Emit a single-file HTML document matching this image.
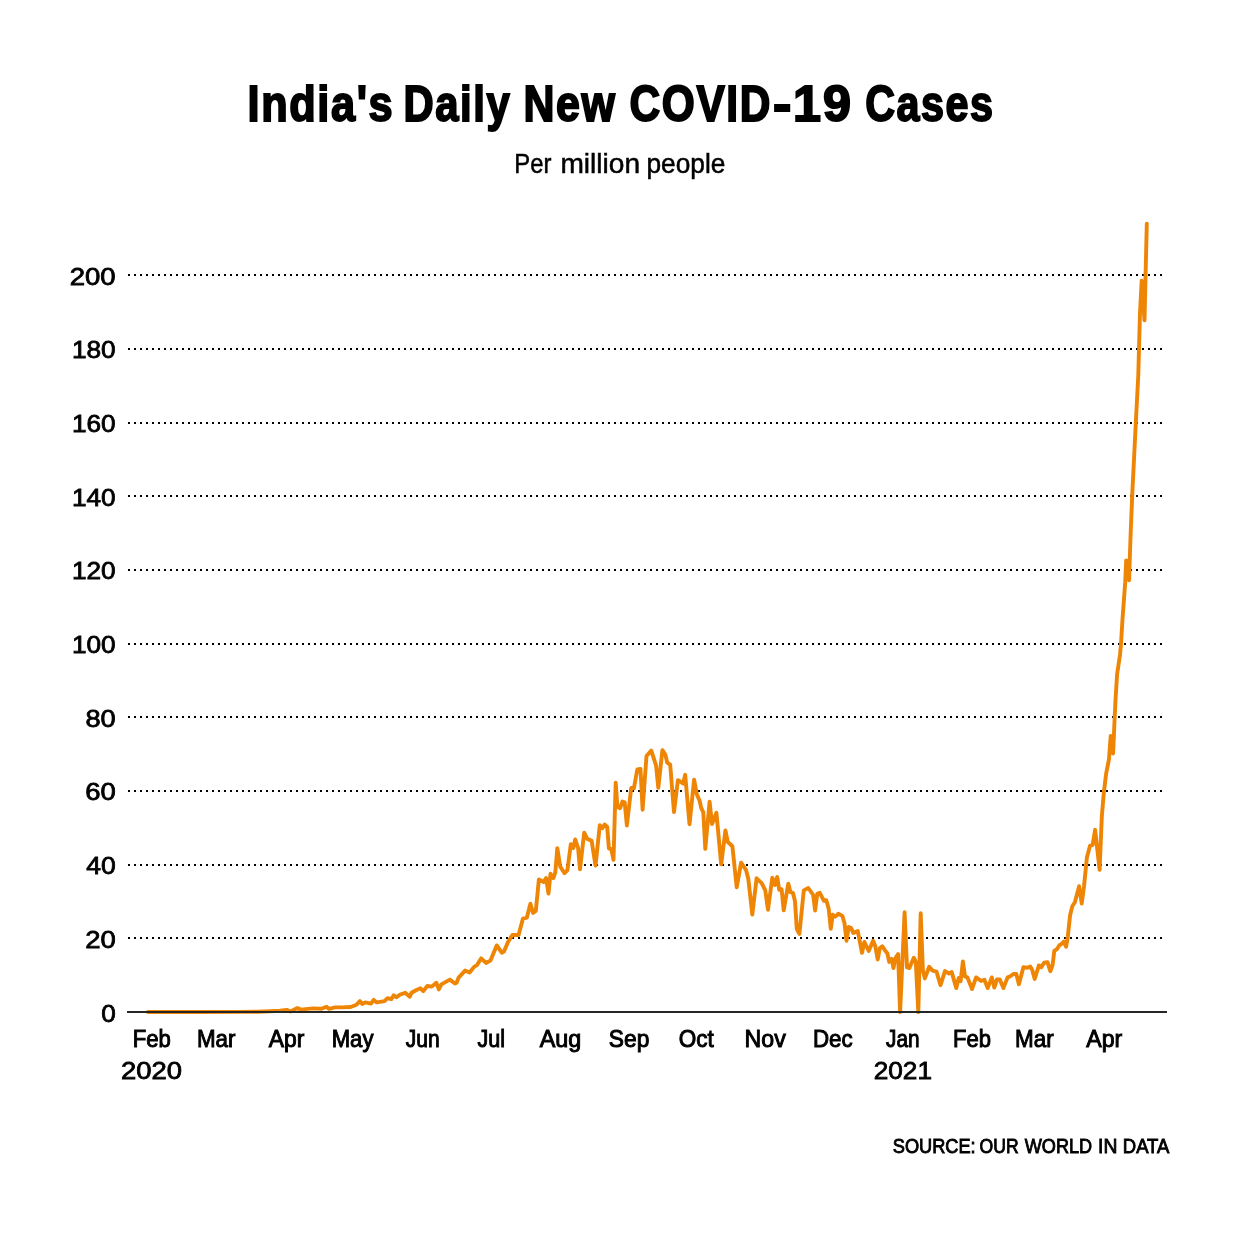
<!DOCTYPE html>
<html lang="en"><head><meta charset="utf-8"><title>India's Daily New COVID-19 Cases</title>
<style>
html,body{margin:0;padding:0;background:#fff;}
body{width:1240px;height:1240px;overflow:hidden;font-family:"Liberation Sans",sans-serif;}
svg{display:block;}

text{font-family:"Liberation Sans",sans-serif;fill:#000;stroke:#000;}
.title{font-size:49.2px;font-weight:700;stroke-width:1.9px;stroke-linejoin:miter;letter-spacing:1.8px;}
.sub{font-size:27px;stroke-width:0.5px;}
.ax{font-size:24.6px;stroke-width:1px;}
.num{font-size:24.1px;stroke-width:0.8px;}
.src{font-size:20.4px;stroke-width:0.9px;}

</style></head><body>
<svg width="1240" height="1240" viewBox="0 0 1240 1240">
<rect width="1240" height="1240" fill="#fff"/>
<g id="grid">
<line x1="128" y1="275" x2="1162" y2="275" stroke="#000" stroke-width="2" stroke-dasharray="2 4"/>
<line x1="128" y1="349" x2="1162" y2="349" stroke="#000" stroke-width="2" stroke-dasharray="2 4"/>
<line x1="128" y1="423" x2="1162" y2="423" stroke="#000" stroke-width="2" stroke-dasharray="2 4"/>
<line x1="128" y1="496" x2="1162" y2="496" stroke="#000" stroke-width="2" stroke-dasharray="2 4"/>
<line x1="128" y1="570" x2="1162" y2="570" stroke="#000" stroke-width="2" stroke-dasharray="2 4"/>
<line x1="128" y1="644" x2="1162" y2="644" stroke="#000" stroke-width="2" stroke-dasharray="2 4"/>
<line x1="128" y1="717" x2="1162" y2="717" stroke="#000" stroke-width="2" stroke-dasharray="2 4"/>
<line x1="128" y1="791" x2="1162" y2="791" stroke="#000" stroke-width="2" stroke-dasharray="2 4"/>
<line x1="128" y1="865" x2="1162" y2="865" stroke="#000" stroke-width="2" stroke-dasharray="2 4"/>
<line x1="128" y1="938" x2="1162" y2="938" stroke="#000" stroke-width="2" stroke-dasharray="2 4"/>
</g>
<polyline fill="none" stroke="#ee8505" stroke-width="3.9" stroke-linejoin="round" stroke-linecap="round" points="147.9,1012.0 200.0,1012.0 240.0,1011.9 258.0,1011.7 270.0,1011.2 280.0,1010.8 286.8,1009.9 290.6,1011.5 297.4,1008.1 300.8,1009.6 312.9,1008.4 321.6,1008.7 326.5,1006.7 328.9,1008.9 335.2,1007.4 342.0,1007.4 350.7,1007.0 356.5,1004.7 359.9,1001.1 362.3,1004.0 365.2,1002.4 371.0,1003.6 373.7,999.9 376.8,1002.4 384.5,1001.1 387.5,998.2 391.3,999.2 393.7,995.3 396.2,997.3 400.2,994.5 405.2,992.8 409.8,996.8 411.5,992.8 416.5,990.0 420.5,988.3 423.3,991.1 427.3,986.0 431.8,986.6 436.3,982.7 438.8,989.4 441.4,984.4 449.8,979.6 454.9,983.5 456.6,982.7 458.6,977.6 465.1,970.6 469.6,972.5 474.1,966.9 476.9,965.2 481.2,958.4 486.0,962.9 490.5,960.6 496.7,945.4 501.8,952.7 504.0,951.6 508.0,942.0 512.4,935.0 518.6,935.0 522.9,918.7 526.8,917.7 530.4,903.7 533.1,912.9 535.8,911.0 538.9,879.5 543.7,881.9 546.1,878.1 548.5,893.5 550.5,873.7 553.4,878.1 555.3,872.3 557.3,848.1 560.2,866.5 564.5,873.2 567.4,870.3 570.8,844.2 573.2,848.1 575.2,839.4 578.1,848.1 580.0,869.4 584.2,832.6 587.3,838.9 591.6,840.8 595.5,865.5 599.8,825.3 602.3,828.2 604.6,824.5 607.2,827.0 608.9,848.3 611.3,849.2 613.5,859.8 615.7,782.6 617.4,806.8 620.1,808.2 622.5,801.5 624.7,802.4 626.9,825.6 631.2,787.9 633.9,788.4 637.3,769.5 640.5,769.0 642.6,809.7 646.5,756.0 651.3,750.6 656.1,765.6 658.3,787.9 662.4,750.2 665.3,754.5 667.3,762.7 670.2,764.7 674.0,812.1 677.9,780.2 683.2,783.5 685.2,774.8 689.5,824.2 694.1,779.7 696.8,794.2 699.7,801.0 701.1,807.7 703.3,812.3 705.3,848.8 709.6,801.8 712.0,824.0 716.4,812.8 721.2,864.4 725.4,830.5 727.8,842.0 732.4,846.2 736.7,887.4 741.1,862.6 746.0,869.8 748.4,879.5 752.3,914.6 756.6,878.3 761.7,883.1 765.3,890.4 768.0,909.8 772.3,877.7 775.0,885.0 777.2,877.1 779.2,889.8 781.6,889.2 783.7,910.4 788.3,883.7 790.5,892.2 792.9,892.8 795.0,901.3 796.8,929.1 799.4,933.9 803.8,890.4 808.3,888.0 813.2,895.0 815.1,910.5 817.3,893.8 819.8,892.8 823.9,900.8 826.3,900.2 828.7,908.7 830.8,928.7 832.7,914.8 835.2,916.6 838.4,913.8 842.4,916.0 844.5,923.2 846.5,940.8 848.7,926.9 851.1,928.1 853.3,932.9 857.8,931.1 862.0,952.9 864.4,942.0 868.7,951.0 873.1,940.8 875.3,946.2 877.7,959.5 879.9,948.0 882.3,946.2 885.0,950.4 887.4,953.5 889.2,961.9 891.6,958.9 893.5,968.0 895.3,958.3 898.1,954.1 900.1,1012.1 904.6,912.3 907.0,967.4 909.4,968.0 913.8,957.7 915.8,961.9 918.3,1012.1 920.7,913.3 922.9,970.5 924.9,978.4 929.2,966.8 932.6,970.6 936.5,971.6 940.5,985.2 945.0,971.1 949.0,973.5 951.7,972.1 956.3,988.1 958.7,977.9 960.6,981.3 962.9,961.5 965.0,976.5 967.4,977.4 972.0,989.0 976.1,977.4 981.0,980.8 984.4,979.8 987.7,988.1 991.8,977.4 994.3,987.6 996.9,979.4 999.8,979.4 1003.4,988.1 1007.6,977.4 1010.0,976.5 1013.4,974.0 1016.3,974.0 1018.9,984.2 1023.4,967.3 1027.4,967.7 1030.2,966.6 1032.3,970.1 1034.7,979.0 1038.9,965.4 1041.3,967.3 1044.1,962.7 1047.5,962.2 1050.3,971.2 1052.6,965.0 1054.3,950.9 1056.9,949.2 1059.4,945.2 1061.4,944.1 1063.9,941.5 1066.1,946.7 1067.8,936.8 1070.1,915.3 1072.3,906.3 1074.9,902.3 1079.1,886.2 1081.7,903.5 1084.0,886.5 1086.9,857.4 1090.1,845.6 1092.6,845.0 1095.1,829.8 1099.6,869.8 1101.8,816.8 1103.9,791.9 1106.1,773.9 1109.0,759.2 1110.7,736.0 1113.1,753.5 1114.7,716.8 1115.6,698.4 1117.1,674.2 1120.0,655.0 1121.0,643.8 1122.5,619.1 1125.2,582.4 1126.2,560.4 1129.1,580.3 1129.9,555.2 1130.6,535.0 1132.2,495.7 1135.8,422.8 1138.3,375.0 1139.0,348.9 1140.0,312.8 1141.7,280.6 1144.5,320.4 1146.8,223.7"/>
<line x1="127" y1="1012" x2="1167" y2="1012" stroke="#262626" stroke-width="2"/>
<g id="labels">
<text class="title" y="121.4"><tspan x="247.59" textLength="146.67" lengthAdjust="spacingAndGlyphs">India&#39;s</tspan> <tspan x="403.54" textLength="107.66" lengthAdjust="spacingAndGlyphs">Daily</tspan> <tspan x="523.41" textLength="93.05" lengthAdjust="spacingAndGlyphs">New</tspan> <tspan x="629.58" textLength="142.33" lengthAdjust="spacingAndGlyphs">COVID</tspan><tspan x="773.01" textLength="20.39" lengthAdjust="spacingAndGlyphs">-</tspan><tspan x="793.07" textLength="59.64" lengthAdjust="spacingAndGlyphs">19</tspan> <tspan x="865.20" textLength="129.18" lengthAdjust="spacingAndGlyphs">Cases</tspan></text>
<text class="sub" y="173.3"><tspan x="514.37" textLength="37.15" lengthAdjust="spacingAndGlyphs">Per</tspan> <tspan x="560.40" textLength="79.64" lengthAdjust="spacingAndGlyphs">million</tspan> <tspan x="646.45" textLength="78.98" lengthAdjust="spacingAndGlyphs">people</tspan></text>
<text class="src" y="1153.2"><tspan x="892.81" textLength="82.80" lengthAdjust="spacingAndGlyphs">SOURCE:</tspan> <tspan x="979.61" textLength="39.04" lengthAdjust="spacingAndGlyphs">OUR</tspan> <tspan x="1024.79" textLength="67.34" lengthAdjust="spacingAndGlyphs">WORLD</tspan> <tspan x="1098.05" textLength="19.31" lengthAdjust="spacingAndGlyphs">IN</tspan> <tspan x="1122.81" textLength="46.58" lengthAdjust="spacingAndGlyphs">DATA</tspan></text>
<text class="num" y="284.5"><tspan x="69.67" textLength="45.96" lengthAdjust="spacingAndGlyphs">200</tspan></text>
<text class="num" y="358.2"><tspan x="71.95" textLength="43.73" lengthAdjust="spacingAndGlyphs">180</tspan></text>
<text class="num" y="431.9"><tspan x="71.95" textLength="43.73" lengthAdjust="spacingAndGlyphs">160</tspan></text>
<text class="num" y="505.6"><tspan x="71.95" textLength="43.73" lengthAdjust="spacingAndGlyphs">140</tspan></text>
<text class="num" y="579.3"><tspan x="71.95" textLength="43.73" lengthAdjust="spacingAndGlyphs">120</tspan></text>
<text class="num" y="653.0"><tspan x="71.95" textLength="43.73" lengthAdjust="spacingAndGlyphs">100</tspan></text>
<text class="num" y="726.7"><tspan x="85.43" textLength="30.27" lengthAdjust="spacingAndGlyphs">80</tspan></text>
<text class="num" y="800.4"><tspan x="85.19" textLength="30.55" lengthAdjust="spacingAndGlyphs">60</tspan></text>
<text class="num" y="874.1"><tspan x="86.16" textLength="29.56" lengthAdjust="spacingAndGlyphs">40</tspan></text>
<text class="num" y="947.8"><tspan x="85.30" textLength="30.56" lengthAdjust="spacingAndGlyphs">20</tspan></text>
<text class="num" y="1021.5"><tspan x="101.28" textLength="14.53" lengthAdjust="spacingAndGlyphs">0</tspan></text>
<text class="ax" y="1047.3"><tspan x="132.73" textLength="38.18" lengthAdjust="spacingAndGlyphs">Feb</tspan></text>
<text class="ax" y="1047.3"><tspan x="196.89" textLength="38.50" lengthAdjust="spacingAndGlyphs">Mar</tspan></text>
<text class="ax" y="1047.3"><tspan x="268.69" textLength="35.60" lengthAdjust="spacingAndGlyphs">Apr</tspan></text>
<text class="ax" y="1047.3"><tspan x="331.65" textLength="41.81" lengthAdjust="spacingAndGlyphs">May</tspan></text>
<text class="ax" y="1047.3"><tspan x="405.81" textLength="33.93" lengthAdjust="spacingAndGlyphs">Jun</tspan></text>
<text class="ax" y="1047.3"><tspan x="477.38" textLength="27.61" lengthAdjust="spacingAndGlyphs">Jul</tspan></text>
<text class="ax" y="1047.3"><tspan x="539.75" textLength="41.62" lengthAdjust="spacingAndGlyphs">Aug</tspan></text>
<text class="ax" y="1047.3"><tspan x="608.86" textLength="40.43" lengthAdjust="spacingAndGlyphs">Sep</tspan></text>
<text class="ax" y="1047.3"><tspan x="678.83" textLength="35.01" lengthAdjust="spacingAndGlyphs">Oct</tspan></text>
<text class="ax" y="1047.3"><tspan x="744.56" textLength="41.18" lengthAdjust="spacingAndGlyphs">Nov</tspan></text>
<text class="ax" y="1047.3"><tspan x="812.96" textLength="39.71" lengthAdjust="spacingAndGlyphs">Dec</tspan></text>
<text class="ax" y="1047.3"><tspan x="886.00" textLength="33.53" lengthAdjust="spacingAndGlyphs">Jan</tspan></text>
<text class="ax" y="1047.3"><tspan x="953.11" textLength="37.95" lengthAdjust="spacingAndGlyphs">Feb</tspan></text>
<text class="ax" y="1047.3"><tspan x="1015.05" textLength="38.65" lengthAdjust="spacingAndGlyphs">Mar</tspan></text>
<text class="ax" y="1047.3"><tspan x="1086.35" textLength="35.97" lengthAdjust="spacingAndGlyphs">Apr</tspan></text>
<text class="num" y="1079.4"><tspan x="120.98" textLength="61.02" lengthAdjust="spacingAndGlyphs">2020</tspan></text>
<text class="num" y="1079.4"><tspan x="873.72" textLength="58.28" lengthAdjust="spacingAndGlyphs">2021</tspan></text>
</g>
</svg>
</body></html>
